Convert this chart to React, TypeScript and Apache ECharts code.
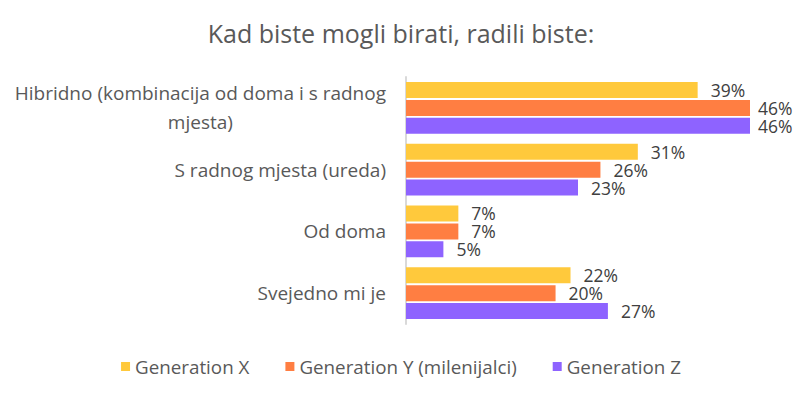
import React, { useEffect, useRef } from "react";
import * as echarts from "echarts";

const categories = [
  "Hibridno (kombinacija od doma i s radnog mjesta)",
  "S radnog mjesta (ureda)",
  "Od doma",
  "Svejedno mi je",
];
const seriesNames = ["Generation X", "Generation Y (milenijalci)", "Generation Z"];
const genX = [39, 31, 7, 22];
const genY = [46, 26, 7, 20];
const genZ = [46, 23, 5, 27];
const colors = ["#FFC93C", "#FF7E42", "#8E63FF"];
const titleText = "Kad biste mogli birati, radili biste:";

const FONT = "Open Sans";

function wrap(text: string, maxChars: number): string {
  const words = text.split(" ");
  const lines: string[] = [];
  let cur = "";
  for (const w of words) {
    const next = cur ? cur + " " + w : w;
    if (next.length > maxChars && cur) {
      lines.push(cur);
      cur = w;
    } else {
      cur = next;
    }
  }
  if (cur) lines.push(cur);
  return lines.map((l) => "{c|" + l + "}").join("\n");
}

export default function App() {
  const ref = useRef<HTMLDivElement>(null);
  useEffect(() => {
    if (!ref.current) return;
    const chart = echarts.init(ref.current, undefined, { renderer: "svg" });
    const mk = (name: string, data: number[], color: string) => ({
      name,
      type: "bar",
      barWidth: 16,
      barGap: "12%",
      itemStyle: { color },
      data: data.map((v) => ({
        value: v,
        label: { distance: v >= 45 ? 8 : 13 },
      })),
      label: {
        show: true,
        position: "right",
        formatter: "{c}%",
        color: "#404040",
        fontSize: 17.5,
        lineHeight: 17,
        fontFamily: FONT,
      },
    });
    chart.setOption({
      animation: false,
      textStyle: { fontFamily: FONT },
      title: {
        text: titleText,
        left: "center",
        top: 15,
        textStyle: { fontSize: 25, fontWeight: "normal", color: "#595959", fontFamily: FONT },
      },
      legend: {
        data: seriesNames,
        top: 352,
        left: "center",
        icon: "rect",
        itemWidth: 9,
        itemHeight: 9,
        itemGap: 36,
        textStyle: { fontSize: 18.8, color: "#595959", fontFamily: FONT },
      },
      grid: { left: 406, right: 52, top: 77, height: 247, containLabel: false },
      xAxis: {
        type: "value",
        min: 0,
        max: 46,
        show: false,
      },
      yAxis: {
        type: "category",
        inverse: true,
        data: categories,
        axisLine: { show: true, lineStyle: { color: "#D9D9D9", width: 2 } },
        axisTick: { show: false },
        axisLabel: {
          margin: 20,
          color: "#595959",
          fontSize: 19,
          fontFamily: FONT,
          lineHeight: 29,
          formatter: (v: string) => wrap(v, 40),
          rich: { c: { align: "center", fontSize: 19, color: "#595959", fontFamily: FONT, lineHeight: 29 } },
        },
      },
      series: [mk(seriesNames[0], genX, colors[0]), mk(seriesNames[1], genY, colors[1]), mk(seriesNames[2], genZ, colors[2])],
    });
    return () => chart.dispose();
  }, []);
  return (
    <div
      ref={ref}
      style={{ position: "fixed", left: 0, top: 0, width: 802, height: 399, background: "#fff" }}
    />
  );
}
